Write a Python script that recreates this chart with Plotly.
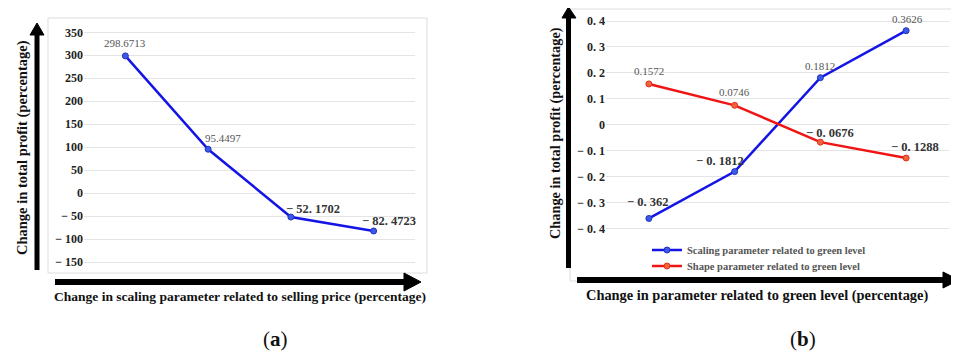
import plotly.graph_objects as go

# ---------------- data ----------------
cats_a = ["c1", "c2", "c3", "c4"]
profit_a = [298.6713, 95.4497, -52.1702, -82.4723]
labels_a = ["298.6713", "95.4497", "− 52. 1702", "− 82. 4723"]
ytick_vals_a = [350, 300, 250, 200, 150, 100, 50, 0, -50, -100, -150]
ytick_text_a = ["350", "300", "250", "200", "150", "100", "50", "0", "− 50", "− 100", "− 150"]

cats_b = ["c1", "c2", "c3", "c4"]
scaling_b = [-0.362, -0.1812, 0.1812, 0.3626]
scaling_labels_b = ["− 0. 362", "− 0. 1812", "0.1812", "0.3626"]
shape_b = [0.1572, 0.0746, -0.0676, -0.1288]
shape_labels_b = ["0.1572", "0.0746", "− 0. 0676", "− 0. 1288"]
ytick_vals_b = [0.4, 0.3, 0.2, 0.1, 0, -0.1, -0.2, -0.3, -0.4]
ytick_text_b = ["0. 4", "0. 3", "0. 2", "0. 1", "0", "− 0. 1", "− 0. 2", "− 0. 3", "− 0. 4"]

series_names_b = ["Scaling parameter related to green level",
                  "Shape parameter related to green level"]

W, H = 959, 352
OFF = 8  # default body margin of the html page
SERIF = "Liberation Serif"


def px(x):
    return (x - OFF) / W


def py(y):
    return 1 - (y - OFF) / H


fig = go.Figure()

# left panel
fig.add_trace(go.Scatter(
    x=cats_a, y=profit_a, mode="lines+markers", xaxis="x", yaxis="y",
    line=dict(color="#1414e6", width=2.5),
    marker=dict(size=6, color="#3a5ae8", line=dict(color="#2030c0", width=1)),
    showlegend=False, hoverinfo="skip"))

# right panel
fig.add_trace(go.Scatter(
    x=cats_b, y=scaling_b, mode="lines+markers", xaxis="x2", yaxis="y2",
    name=series_names_b[0], legend="legend",
    line=dict(color="#1414e6", width=2.5),
    marker=dict(size=6, color="#3a5ae8", line=dict(color="#2030c0", width=1))))
fig.add_trace(go.Scatter(
    x=cats_b, y=shape_b, mode="lines+markers", xaxis="x2", yaxis="y2",
    name=series_names_b[1], legend="legend2",
    line=dict(color="#f01414", width=2.5),
    marker=dict(size=6, color="#f0643c", line=dict(color="#e03020", width=1))))

annotations = []


def lab(x, y, xref, yref, t, neg, dx, dy):
    return dict(
        x=x, y=y, xref=xref, yref=yref, text=t, showarrow=False,
        xanchor="center", yanchor="middle", xshift=dx, yshift=dy,
        font=dict(family=SERIF, size=12.5 if neg else 11,
                  color="#333" if neg else "#555", weight="bold" if neg else "normal"))


# data labels, left
offs_a = [(0, 13), (15, 11), (22, 8), (15, 10)]
for i, (c, v, t) in enumerate(zip(cats_a, profit_a, labels_a)):
    annotations.append(lab(c, v, "x", "y", t, v < 0, *offs_a[i]))

offs_scal = [(-1, 16), (-15, 11), (0, 12), (1, 12)]
for i, (c, v, t) in enumerate(zip(cats_b, scaling_b, scaling_labels_b)):
    annotations.append(lab(c, v, "x2", "y2", t, v < 0, *offs_scal[i]))

offs_shape = [(0, 13), (0, 13), (10, 9), (9, 11)]
for i, (c, v, t) in enumerate(zip(cats_b, shape_b, shape_labels_b)):
    annotations.append(lab(c, v, "x2", "y2", t, v < 0, *offs_shape[i]))


def note(x, y, text, size, angle=0, weight="bold"):
    return dict(x=px(x), y=py(y), xref="paper", yref="paper", text=text,
                textangle=angle, showarrow=False, xanchor="center", yanchor="middle",
                font=dict(family=SERIF, size=size, color="#111", weight=weight))


annotations += [
    note(22, 148, "Change in total profit (percentage)", 14.5, -90),
    note(240, 296, "Change in scaling parameter related to selling price (percentage)", 13.5),
    note(555, 133, "Change in total profit (percentage)", 14.3, -90),
    note(757, 295, "Change in parameter related to green level (percentage)", 14.4),
    note(275, 339, "(<b>a</b>)", 21, weight="normal"),
    note(803, 339, "(<b>b</b>)", 21, weight="normal"),
]


def path(points):
    return "M " + " L ".join("%f,%f" % (px(a), py(b)) for a, b in points) + " Z"


shapes = [
    # plot frames
    dict(type="rect", xref="paper", yref="paper", x0=px(48), x1=px(427), y0=py(273), y1=py(18),
         line=dict(color="#dddddd", width=1), layer="below"),
    dict(type="rect", xref="paper", yref="paper", x0=px(570), x1=px(957), y0=py(281), y1=py(9),
         line=dict(color="#dddddd", width=1), layer="below"),
    # left arrows
    dict(type="line", xref="paper", yref="paper", x0=px(37), x1=px(37), y0=py(270), y1=py(32),
         line=dict(color="black", width=5)),
    dict(type="path", xref="paper", yref="paper", path=path([(37, 23), (30, 35), (44, 35)]),
         fillcolor="black", line=dict(color="black", width=1)),
    dict(type="line", xref="paper", yref="paper", x0=px(55), x1=px(408), y0=py(282), y1=py(282),
         line=dict(color="black", width=6)),
    dict(type="path", xref="paper", yref="paper", path=path([(421, 282), (404, 273), (404, 291)]),
         fillcolor="black", line=dict(color="black", width=1)),
    # right arrows
    dict(type="line", xref="paper", yref="paper", x0=px(568.5), x1=px(568.5), y0=py(268), y1=py(14),
         line=dict(color="black", width=5)),
    dict(type="path", xref="paper", yref="paper", path=path([(568.5, 7), (562, 18), (576, 18)]),
         fillcolor="black", line=dict(color="black", width=1)),
    dict(type="line", xref="paper", yref="paper", x0=px(577), x1=px(946), y0=py(280), y1=py(280),
         line=dict(color="black", width=6)),
    dict(type="path", xref="paper", yref="paper", path=path([(959, 280), (943, 272), (943, 288)]),
         fillcolor="black", line=dict(color="black", width=1)),
]

# y ranges chosen to put gridlines where the reference has them
a_top, a_bot = 25, 268
a_scale = (262 - 32.3) / 500.0
a_hi = 350 + (32.3 - a_top) / a_scale
a_lo = -150 - (a_bot - 262) / a_scale

b_top, b_bot = 12, 275
b_scale = (228.3 - 21) / 0.8
b_hi = 0.4 + (21 - b_top) / b_scale
b_lo = -0.4 - (b_bot - 228.3) / b_scale

tickfont = dict(family=SERIF, size=12, color="#222", weight="bold")
legfont = dict(family=SERIF, size=10.5, color="#555", weight="bold")

fig.update_layout(
    width=W, height=H, margin=dict(l=0, r=0, t=0, b=0),
    paper_bgcolor="white", plot_bgcolor="white",
    xaxis=dict(domain=[px(84), px(415)], range=[-0.5, 3.5], showticklabels=False,
               showgrid=False, zeroline=False, showline=False),
    yaxis=dict(domain=[py(a_bot), py(a_top)], range=[a_lo, a_hi], tickvals=ytick_vals_a,
               ticktext=ytick_text_a, showgrid=True, gridcolor="#e4e4e4", gridwidth=1,
               zeroline=False, showline=False, ticks="", tickfont=tickfont, anchor="x"),
    xaxis2=dict(domain=[px(606), px(949)], range=[-0.5, 3.5], showticklabels=False,
                showgrid=False, zeroline=False, showline=False, anchor="y2"),
    yaxis2=dict(domain=[py(b_bot), py(b_top)], range=[b_lo, b_hi], tickvals=ytick_vals_b,
                ticktext=ytick_text_b, showgrid=True, gridcolor="#e4e4e4", gridwidth=1,
                zeroline=False, showline=False, ticks="", tickfont=tickfont, anchor="x2"),
    showlegend=True,
    legend=dict(x=px(647), y=py(250), xanchor="left", yanchor="middle", bgcolor="rgba(0,0,0,0)",
                font=legfont, itemwidth=30),
    legend2=dict(x=px(647), y=py(266), xanchor="left", yanchor="middle", bgcolor="rgba(0,0,0,0)",
                 font=legfont, itemwidth=30),
    annotations=annotations,
    shapes=shapes,
)

fig.write_html("out.html")
